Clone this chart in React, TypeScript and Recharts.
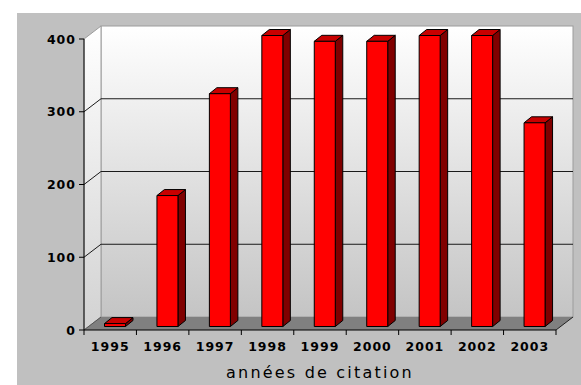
import { BarChart, Bar, XAxis, YAxis, CartesianGrid, ReferenceArea } from 'recharts'

const YEARS = ['1995', '1996', '1997', '1998', '1999', '2000', '2001', '2002', '2003']
const CITATIONS = [4, 180, 320, 400, 392, 392, 400, 400, 280]
const Y_TICKS = [0, 100, 200, 300, 400]
const GRID_VALUES = [100, 200, 300]
const X_TITLE = 'années de citation'

const data = YEARS.map((year, i) => ({ year, citations: CITATIONS[i] }))

// depth of the 3D box behind the plot, and of each bar
const BOX_DX = 17
const BOX_DY = -13
const BAR_DX = 7.5
const BAR_DY = -6
// bars sit a little behind the front plane
const BAR_SHIFT_X = 4.5
const BAR_SHIFT_Y = -3.5

const TICK_SIZE = 5
const TICK_MARGIN = 4
const LABEL_FONT = '"DejaVu Sans", Verdana, sans-serif'

function Box(props: any) {
  const { x, y, width, height } = props
  const right = x + width
  const bottom = y + height
  return (
    <g>
      <defs>
        <linearGradient id="backWall" x1="0" y1="0" x2="0" y2="1">
          <stop offset="0%" stopColor="#ffffff" />
          <stop offset="100%" stopColor="#c4c4c4" />
        </linearGradient>
        <linearGradient id="sideWall" x1="0" y1="0" x2="0" y2="1">
          <stop offset="0%" stopColor="#ffffff" />
          <stop offset="100%" stopColor="#d2d2d2" />
        </linearGradient>
      </defs>
      <rect
        x={x + BOX_DX}
        y={y + BOX_DY}
        width={width}
        height={height}
        fill="url(#backWall)"
        stroke="#9c9c9c"
      />
      <polygon
        points={`${x},${y} ${x + BOX_DX},${y + BOX_DY} ${x + BOX_DX},${bottom + BOX_DY} ${x},${bottom}`}
        fill="url(#sideWall)"
        stroke="#9c9c9c"
      />
      <polygon
        points={`${x},${bottom} ${right},${bottom} ${right + BOX_DX},${bottom + BOX_DY} ${x + BOX_DX},${bottom + BOX_DY}`}
        fill="#808080"
      />
      <line x1={x} y1={bottom} x2={x + BOX_DX} y2={bottom + BOX_DY} stroke="#555" />
      <line x1={right} y1={bottom} x2={right + BOX_DX} y2={bottom + BOX_DY} stroke="#222" />
    </g>
  )
}

const renderBackLine = (props: any) => {
  const { x1, x2, y1 } = props
  return (
    <g key={`back-${y1}`}>
      <line x1={x1} y1={y1} x2={x1 + BOX_DX} y2={y1 + BOX_DY} stroke="#1a1a1a" />
      <line x1={x1 + BOX_DX} y1={y1 + BOX_DY} x2={x2 + BOX_DX} y2={y1 + BOX_DY} stroke="#1a1a1a" />
    </g>
  )
}

function Bar3D(props: any) {
  const { x, y, width, height } = props
  if (height == null || width == null) return null
  const fx = x + BAR_SHIFT_X
  const fy = y + BAR_SHIFT_Y
  const fr = fx + width
  const fb = fy + height
  return (
    <g stroke="#000" strokeWidth={1} strokeLinejoin="round">
      <polygon
        points={`${fr},${fy} ${fr + BAR_DX},${fy + BAR_DY} ${fr + BAR_DX},${fb + BAR_DY} ${fr},${fb}`}
        fill="#800000"
      />
      <polygon
        points={`${fx},${fy} ${fx + BAR_DX},${fy + BAR_DY} ${fr + BAR_DX},${fy + BAR_DY} ${fr},${fy}`}
        fill="#c80000"
      />
      <rect x={fx} y={fy} width={width} height={height} fill="#ff0000" />
    </g>
  )
}

const renderYearTick = (props: any) => {
  const { x, y, payload, index } = props
  const half = payload.offset
  const axisY = y - TICK_SIZE - TICK_MARGIN
  return (
    <g>
      {index === 0 && (
        <line x1={x - half} y1={axisY} x2={x - half} y2={axisY + TICK_SIZE} stroke="#000" />
      )}
      <line x1={x + half} y1={axisY} x2={x + half} y2={axisY + TICK_SIZE} stroke="#000" />
      <text
        x={x}
        y={y + 12}
        textAnchor="middle"
        fontFamily={LABEL_FONT}
        fontWeight="bold"
        fontSize={12.5}
        letterSpacing={1}
        fill="#000"
      >
        {payload.value}
      </text>
    </g>
  )
}

const renderValueTick = (props: any) => {
  const { x, y, payload } = props
  return (
    <text
      x={x}
      y={y + 4.5}
      textAnchor="end"
      fontFamily={LABEL_FONT}
      fontWeight="bold"
      fontSize={12.5}
      letterSpacing={1}
      fill="#000"
    >
      {payload.value}
    </text>
  )
}

const renderTitle = (props: any) => {
  const { viewBox } = props
  return (
    <text
      x={viewBox.x + viewBox.width / 2}
      y={viewBox.y + viewBox.height - 7}
      textAnchor="middle"
      fontFamily={LABEL_FONT}
      fontSize={16}
      letterSpacing={2.2}
      fill="#000"
    >
      {X_TITLE}
    </text>
  )
}

export default function App() {
  return (
    <div style={{ position: 'absolute', left: 0, top: 0, width: 581, height: 385, background: '#fff' }}>
      <div style={{ position: 'absolute', left: 17, top: 13, right: 0, bottom: 0, background: '#c0c0c0' }} />
      <div style={{ position: 'absolute', left: 0, top: 0 }}>
        <BarChart width={581} height={385} data={data} margin={{ top: 39, right: 25, bottom: 0, left: 0 }}>
          <ReferenceArea y1={0} y2={400} shape={<Box />} ifOverflow="visible" zIndex={-200} />
          <CartesianGrid vertical={false} horizontalValues={GRID_VALUES} horizontal={renderBackLine} />
          <XAxis
            dataKey="year"
            height={55}
            interval={0}
            tickLine={false}
            tickSize={TICK_SIZE}
            tickMargin={TICK_MARGIN}
            axisLine={{ stroke: '#000' }}
            tick={renderYearTick}
            label={{ position: 'insideBottom', content: renderTitle }}
          />
          <YAxis
            type="number"
            domain={[0, 400]}
            ticks={Y_TICKS}
            width={84}
            tickSize={TICK_SIZE}
            tickMargin={3}
            tickLine={{ stroke: '#000' }}
            axisLine={{ stroke: '#000' }}
            tick={renderValueTick}
          />
          <Bar dataKey="citations" barSize={21} shape={Bar3D} isAnimationActive={false} />
        </BarChart>
      </div>
    </div>
  )
}
